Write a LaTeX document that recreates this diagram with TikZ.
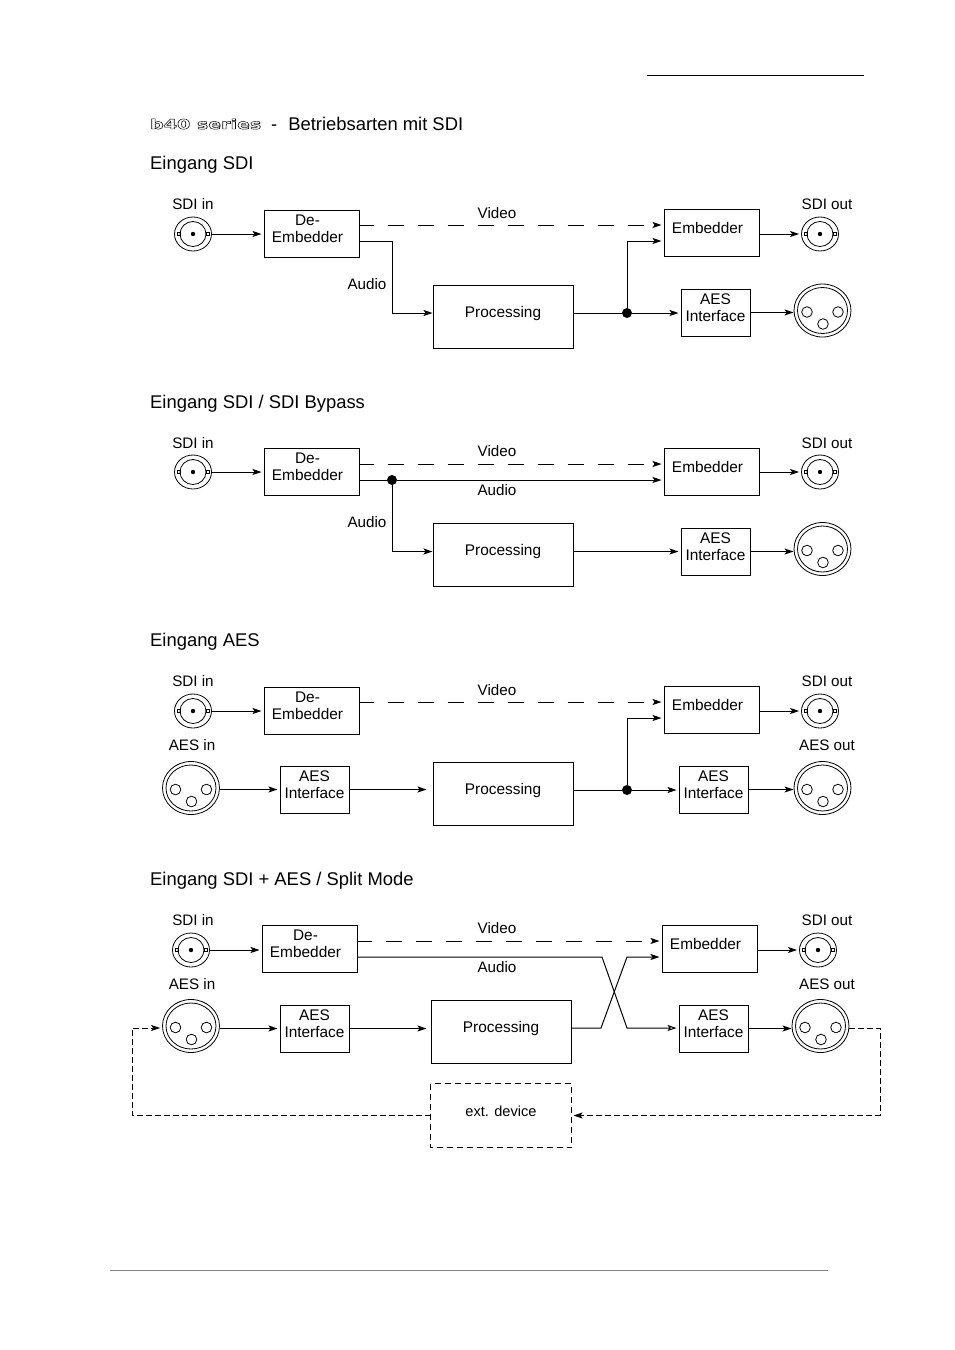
\documentclass[tikz,border=0pt]{standalone}
\usepackage{fontspec}
\setmainfont{Liberation Sans}
\newfontfamily\seriesfont{DejaVu Sans Bold}
\usetikzlibrary{calc,
shapes.geometric,
arrows.meta,
positioning}
\definecolor{footline}{HTML}{8C8278}

\tikzset{
    block/.style={rectangle, draw, line width=1pt, inner sep=0pt, align=center,
        font=\fontsize{15.4}{17}\selectfont},
    wideblock/.style={block, minimum width=95pt, minimum height=47pt},
    procblock/.style={block, minimum width=140pt, minimum height=63pt},
    aesblock/.style={block, minimum width=69pt, minimum height=47pt},
    bncring/.style={ellipse, draw, line width=.8pt, inner sep=0pt,
        minimum width=37pt, minimum height=34pt},
    xlrring/.style={ellipse, draw, line width=.8pt, inner sep=0pt,
        minimum width=57pt, minimum height=53pt},
    junction/.style={circle, fill=black, inner sep=0pt, minimum size=10pt},
    heading/.style={anchor=base west, inner sep=0pt, font=\fontsize{18.4}{20}\selectfont},
    tag/.style={inner sep=0pt, font=\fontsize{15.2}{17}\selectfont},
    sig/.style={-{Stealth[length=9pt,width=6pt,inset=2pt]}, line width=1pt, shorten >=2pt},
    sigvideo/.style={sig, dash pattern=on 16pt off 14pt, dash phase=2pt},
    sigloop/.style={sig, line width=.8pt, dash pattern=on 6pt off 3pt},
}

% text in the blocks sits a little above the middle
\newcommand{\lift}{\\[-7pt]\mbox{}}
\newcommand{\pad}[1]{\mbox{#1\hspace{8pt}}}

\newcommand{\bncplug}[2]{
    \node [bncring] (#1) at (#2) {};
    \draw [line width=.8pt] (#1) ellipse [x radius=13pt, y radius=12.5pt];
    \fill (#1) circle [radius=2.2pt];
    \draw [line width=.8pt] ($(#1)+(-16,-1.5)$) rectangle +(3,3);
    \draw [line width=.8pt] ($(#1)+(13,-1.5)$) rectangle +(3,3);
}
\newcommand{\xlrplug}[2]{
    \node [xlrring] (#1) at (#2) {};
    \draw [line width=.8pt] (#1) ellipse [x radius=25pt, y radius=23pt];
    \draw [line width=.8pt] ($(#1)+(-15.5,1.5)$) circle [radius=5.3pt];
    \draw [line width=.8pt] ($(#1)+(15.5,1.5)$) circle [radius=5.3pt];
    \draw [line width=.8pt] ($(#1)+(0.5,13.5)$) circle [radius=5.3pt];
}

\begin{document}
\begin{tikzpicture}[x=1pt, y=-1pt]
    \useasboundingbox (0,0) rectangle (954,1350);

    \coordinate (headl) at (647,75);
    \coordinate (headr) at (864,75);
    \draw [line width=1pt] (headl) -- (headr);
    \coordinate (footl) at (110,1270);
    \coordinate (footr) at (828,1270);
    \draw [line width=1pt, color=footline] (footl) -- (footr);

    \node [heading, font=\fontsize{13.5}{15}\seriesfont] (series) at (150,129)
        {\special{pdf:code 1 Tr 0.45 w}\scalebox{1.41}[1]{b40 series}\special{pdf:code 0 Tr}};
    \node [heading, anchor=base west] (title) at (271,130) {-\hspace{11pt}Betriebsarten mit SDI};

    % Eingang SDI
    \node [heading] (headA) at (150,169) {Eingang SDI};

    \bncplug{sdiinA}{193,234}
    \bncplug{sdioutA}{820,234}
    \xlrplug{xlroutA}{822.5,310.5}
    \node [wideblock] (deembA) at (311.5,233.5) {\pad{De-}\\\pad{Embedder}\lift};
    \node [procblock] (procA) at (503,316.5) {Processing\lift};
    \node [wideblock] (embA) at (711.5,233) {\pad{Embedder}\lift};
    \node [aesblock] (aesA) at (715.5,312.5) {AES\\Interface\lift};
    \node [junction] (dotA) at (627,313) {};

    \node [tag] (sdiintagA) at (193,204) {SDI in};
    \node [tag] (sdiouttagA) at (827,204) {SDI out};
    \node [tag] (videotagA) at (497,213) {Video};
    \node [tag] (audiotagA) at (367,284) {Audio};

    \coordinate (videoA) at (deembA.east |- 0,225);
    \coordinate (audioA) at (deembA.east |- 0,241);
    \coordinate (cornerA) at (392,241);
    \coordinate (procinA) at (procA.west |- 0,313);
    \coordinate (procoutA) at (procA.east |- 0,313);
    \coordinate (embinA) at (embA.west |- 0,241);

    \draw [sig] (sdiinA.east) -- (sdiinA.east -| deembA.west);
    \draw [sigvideo] (videoA) -- (videoA -| embA.west);
    \draw [sig, shorten >=0pt] (audioA) -- (cornerA) |- (procinA);
    \draw [line width=1pt] (procoutA) -- (dotA);
    \draw [sig] (dotA) -- (dotA -| aesA.west);
    \draw [sig] (dotA) |- (embinA);
    \draw [sig] (sdioutA.west -| embA.east) -- (sdioutA.west);
    \draw [sig, shorten >=0pt] (aesA.east) -- (aesA.east -| xlroutA.west);

    % Eingang SDI / SDI Bypass
    \node [heading] (headB) at (150,408) {Eingang SDI / SDI Bypass};

    \bncplug{sdiinB}{193,472}
    \bncplug{sdioutB}{820,472}
    \xlrplug{xlroutB}{822.5,549}
    \node [wideblock] (deembB) at (311.5,471.5) {\pad{De-}\\\pad{Embedder}\lift};
    \node [procblock] (procB) at (503,554.5) {Processing\lift};
    \node [wideblock] (embB) at (711.5,471.5) {\pad{Embedder}\lift};
    \node [aesblock] (aesB) at (715.5,551.5) {AES\\Interface\lift};
    \node [junction] (dotB) at (392,480) {};

    \node [tag] (sdiintagB) at (193,443) {SDI in};
    \node [tag] (sdiouttagB) at (827,443) {SDI out};
    \node [tag] (videotagB) at (497,451) {Video};
    \node [tag] (audiotagB) at (497,490) {Audio};
    \node [tag] (audiotagbB) at (367,522) {Audio};

    \coordinate (videoB) at (deembB.east |- 0,464);
    \coordinate (audioB) at (deembB.east |- 0,480);
    \coordinate (procinB) at (procB.west |- 0,551.5);
    \coordinate (procoutB) at (procB.east |- 0,551.5);

    \draw [sig] (sdiinB.east) -- (sdiinB.east -| deembB.west);
    \draw [sigvideo] (videoB) -- (videoB -| embB.west);
    \draw [line width=1pt] (audioB) -- (dotB);
    \draw [sig] (dotB) -- (dotB -| embB.west);
    \draw [sig, shorten >=0pt] (dotB) |- (procinB);
    \draw [sig] (procoutB) -- (procoutB -| aesB.west);
    \draw [sig] (sdioutB.west -| embB.east) -- (sdioutB.west);
    \draw [sig, shorten >=0pt] (aesB.east) -- (aesB.east -| xlroutB.west);

    % Eingang AES
    \node [heading] (headC) at (150,646) {Eingang AES};

    \bncplug{sdiinC}{193,711}
    \bncplug{sdioutC}{820,711}
    \xlrplug{xlrinC}{191,788}
    \xlrplug{xlroutC}{822.5,788}
    \node [wideblock] (deembC) at (311.5,710.5) {\pad{De-}\\\pad{Embedder}\lift};
    \node [aesblock] (aesinC) at (314.5,789.5) {AES\\Interface\lift};
    \node [procblock] (procC) at (503,793.5) {Processing\lift};
    \node [wideblock] (embC) at (711.5,710) {\pad{Embedder}\lift};
    \node [aesblock] (aesoutC) at (713.5,789.5) {AES\\Interface\lift};
    \node [junction] (dotC) at (627,790) {};

    \node [tag] (sdiintagC) at (193,681) {SDI in};
    \node [tag] (sdiouttagC) at (827,681) {SDI out};
    \node [tag] (aesintagC) at (192,745) {AES in};
    \node [tag] (aesouttagC) at (827,745) {AES out};
    \node [tag] (videotagC) at (497,690) {Video};

    \coordinate (videoC) at (deembC.east |- 0,702);
    \coordinate (procoutC) at (procC.east |- 0,790);
    \coordinate (embinC) at (embC.west |- 0,718);

    \draw [sig] (sdiinC.east) -- (sdiinC.east -| deembC.west);
    \draw [sigvideo] (videoC) -- (videoC -| embC.west);
    \draw [sig] (xlrinC.east |- aesinC.west) -- (aesinC.west);
    \draw [sig, shorten >=6pt] (aesinC.east) -- (aesinC.east -| procC.west);
    \draw [line width=1pt] (procoutC) -- (dotC);
    \draw [sig] (dotC) -- (dotC -| aesoutC.west);
    \draw [sig] (dotC) |- (embinC);
    \draw [sig] (sdioutC.west -| embC.east) -- (sdioutC.west);
    \draw [sig, shorten >=0pt] (aesoutC.east) -- (aesoutC.east -| xlroutC.west);

    % Eingang SDI + AES / Split Mode
    \node [heading] (headD) at (150,885) {Eingang SDI + AES / Split Mode};

    \bncplug{sdiinD}{191,950}
    \bncplug{sdioutD}{818,950}
    \xlrplug{xlrinD}{191,1026}
    \xlrplug{xlroutD}{820.5,1026}
    \node [wideblock] (deembD) at (309.5,948.5) {\pad{De-}\\\pad{Embedder}\lift};
    \node [aesblock] (aesinD) at (314.5,1028.5) {AES\\Interface\lift};
    \node [procblock] (procD) at (501,1031.5) {Processing\lift};
    \node [wideblock] (embD) at (709.5,948.5) {\pad{Embedder}\lift};
    \node [aesblock] (aesoutD) at (713.5,1028.5) {AES\\Interface\lift};
    \node [procblock, draw=none] (extD) at (501,1115.5) {\fontsize{14.6}{17}\selectfont ext. device\\[-9pt]\mbox{}};
    \draw [sigloop, -, shorten >=0pt, dash pattern=on 6pt off 4pt] (extD.north west) rectangle (extD.south east);

    \node [tag] (sdiintagD) at (193,920) {SDI in};
    \node [tag] (sdiouttagD) at (827,920) {SDI out};
    \node [tag] (aesintagD) at (192,984) {AES in};
    \node [tag] (aesouttagD) at (827,984) {AES out};
    \node [tag] (videotagD) at (497,928) {Video};
    \node [tag] (audiotagD) at (497,967) {Audio};

    \coordinate (videoD) at (deembD.east |- 0,941);
    \coordinate (audioD) at (deembD.east |- 0,957);
    \coordinate (crossa) at (602,957);
    \coordinate (crossb) at (627,1028);
    \coordinate (crossc) at (601,1028);
    \coordinate (crossd) at (627,957);
    \coordinate (procoutD) at (procD.east |- 0,1028);
    \coordinate (embinD) at (embD.west |- 0,957);
    \coordinate (loopr) at (880,1028);
    \coordinate (loopl) at (132,1028);

    \draw [sig] (sdiinD.east) -- (sdiinD.east -| deembD.west);
    \draw [sigvideo] (videoD) -- (videoD -| embD.west);
    \draw [sig, -{Stealth[open,fill=white,length=9pt,width=6pt,inset=2pt]}] (audioD) -- (crossa) -- (crossb) -- (crossb -| aesoutD.west);
    \draw [sig] (procoutD) -- (crossc) -- (crossd) -- (embinD);
    \draw [sig] (xlrinD.east |- aesinD.west) -- (aesinD.west);
    \draw [sig, shorten >=4pt] (aesinD.east) -- (aesinD.east -| procD.west);
    \draw [sig] (sdioutD.west -| embD.east) -- (sdioutD.west);
    \draw [sig, shorten >=0pt] (aesoutD.east) -- (aesoutD.east -| xlroutD.west);
    \draw [sigloop] (loopr -| xlroutD.east) -- (loopr) |- (extD.east);
    \draw [sigloop] (extD.west) -| (loopl) -- (loopl -| xlrinD.west);

\end{tikzpicture}
\end{document}
